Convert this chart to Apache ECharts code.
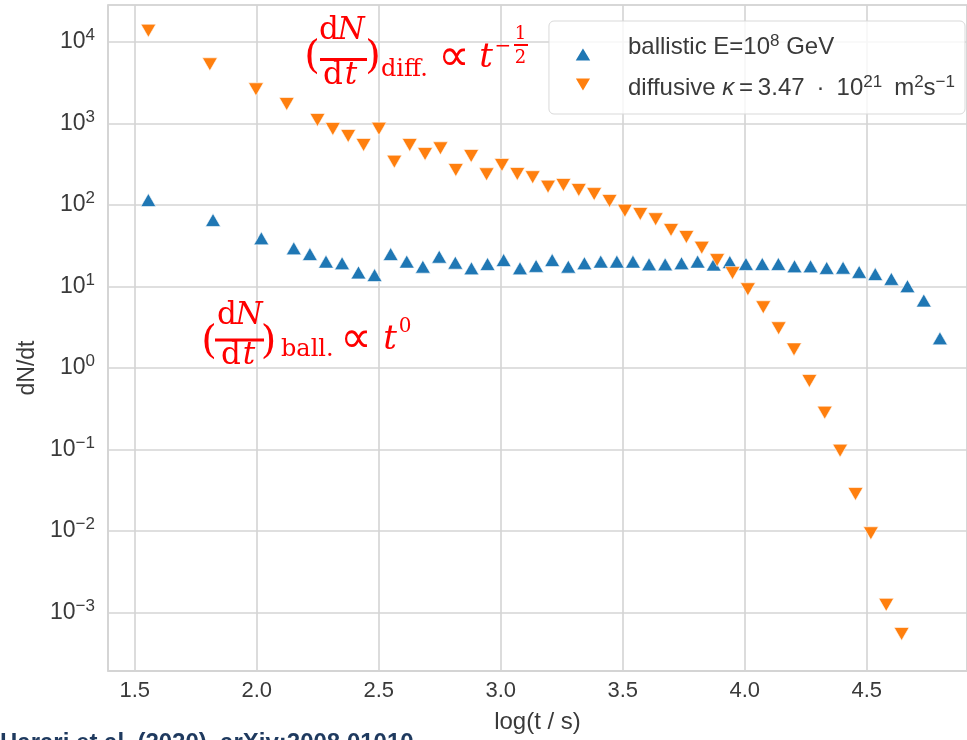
<!DOCTYPE html>
<html>
<head>
<meta charset="utf-8">
<script src="https://cdn.jsdelivr.net/npm/echarts@6/dist/echarts.min.js"></script>
<style>
html,body{margin:0;padding:0;background:#fff;}
#chart{width:967px;height:740px;}
</style>
</head>
<body>
<div id="chart"></div>
<script>
// ---- data ----
const ballisticName = 'ballistic';
const diffusiveName = 'diffusive';
const xBall = [1.556, 1.821, 2.019, 2.152, 2.218, 2.284, 2.350, 2.417, 2.483, 2.549, 2.615, 2.681, 2.748, 2.814, 2.880, 2.946, 3.012, 3.079, 3.145, 3.211, 3.277, 3.343, 3.410, 3.476, 3.542, 3.608, 3.674, 3.741, 3.807, 3.873, 3.939, 4.005, 4.072, 4.138, 4.204, 4.270, 4.336, 4.403, 4.469, 4.535, 4.601, 4.667, 4.734, 4.800];
const yBall = [115, 65.5, 39.0, 29.4, 25.0, 20.2, 19.3, 14.9, 13.8, 25.0, 20.2, 17.5, 23.2, 19.6, 16.7, 18.9, 21.1, 16.7, 17.9, 21.1, 17.5, 19.3, 20.2, 20.2, 20.2, 18.7, 18.7, 19.3, 20.2, 18.6, 20.0, 18.9, 18.9, 18.9, 17.7, 17.7, 16.9, 17.0, 15.1, 14.2, 12.4, 10.1, 6.74, 2.31];
const xDiff = [1.556, 1.808, 1.997, 2.123, 2.249, 2.312, 2.375, 2.438, 2.501, 2.564, 2.627, 2.690, 2.753, 2.816, 2.879, 2.942, 3.005, 3.068, 3.131, 3.194, 3.257, 3.320, 3.383, 3.446, 3.509, 3.572, 3.635, 3.698, 3.761, 3.824, 3.887, 3.950, 4.013, 4.076, 4.139, 4.202, 4.265, 4.328, 4.391, 4.454, 4.517, 4.580, 4.643];
const yDiff = [13760, 5325, 2627, 1735, 1104, 857, 703, 545, 863, 340, 545, 422, 496, 269, 399, 238, 310, 240, 219, 168, 176, 153, 136, 112, 85.1, 77.6, 66.8, 49.4, 40.5, 29.9, 21.1, 14.6, 9.24, 5.56, 3.07, 1.69, 0.692, 0.283, 0.0967, 0.0284, 0.00937, 0.00124, 0.000545];
const xRange = [1.3906, 4.911];
const yRange = [1.914e-4, 28445];
const xTitle = 'log(t / s)';
const yTitle = 'dN/dt';
const sourceNote = 'Harari et al. (2020), arXiv:2008.01010';

// ---- styles ----
const BLUE = '#1f77b4', ORANGE = '#ff7f0e', RED = '#ff0000';
const GRID = '#d4d4d4', TXT = '#3a3a3a';
const SANS = '"Liberation Sans", Arial, sans-serif';
const SERIF = '"DejaVu Serif", serif';

function supLabel(v) {
  const e = Math.round(Math.log10(v));
  return '10{s|' + (e < 0 ? '\u2212' + (-e) : e) + '}';
}

function tx(text, x, y, size, opts) {
  opts = opts || {};
  return {
    type: 'text', silent: true, z: 100,
    style: {
      text: text, x: x, y: y,
      fill: RED,
      font: (opts.italic ? 'italic ' : '') + size + 'px ' + (opts.family || SERIF),
      textAlign: opts.align || 'center',
      textVerticalAlign: 'middle', verticalAlign: 'middle'
    }
  };
}
function bar(x1, x2, y, w) {
  return { type: 'line', silent: true, z: 100,
    shape: {x1: x1, y1: y, x2: x2, y2: y},
    style: {stroke: RED, lineWidth: w} };
}

const graphics = [
  // (dN/dt)_diff. ∝ t^{-1/2}
  tx('(', 312, 58, 40),
  tx('d', 329, 31, 31), tx('N', 351, 31, 31, {italic: true}),
  bar(320, 367, 59.5, 2.8),
  tx('d', 333, 76, 31), tx('t', 351, 76, 31, {italic: true}),
  tx(')', 373, 58, 40),
  tx('diff.', 381, 70, 24, {align: 'left'}),
  tx('\u221D', 454, 59, 44, {family: '"DejaVu Sans", sans-serif'}),
  tx('t', 486, 58, 34, {italic: true}),
  tx('\u2212', 503, 47, 20),
  tx('1', 520.5, 34.5, 18),
  bar(514, 528, 45, 2),
  tx('2', 520.5, 58, 18),
  // (dN/dt)_ball. ∝ t^0
  tx('(', 209, 343, 40),
  tx('d', 227, 316, 31), tx('N', 249, 316, 31, {italic: true}),
  bar(215, 264, 340, 2.8),
  tx('d', 231, 356, 31), tx('t', 249, 356, 31, {italic: true}),
  tx(')', 268.5, 343, 40),
  tx('ball.', 281, 350, 24, {align: 'left'}),
  tx('\u221D', 356, 341, 44, {family: '"DejaVu Sans", sans-serif'}),
  tx('t', 390, 340, 34, {italic: true}),
  tx('0', 405, 327, 20),
  // y-axis title
  { type: 'text', silent: true, x: 28, y: 368, rotation: Math.PI / 2,
    style: { text: yTitle, fill: TXT, font: '23px ' + SANS,
      textAlign: 'center', textVerticalAlign: 'middle', verticalAlign: 'middle' } },
  // source note (cut at bottom edge)
  { type: 'text', silent: true, left: 0, top: 731,
    style: { text: sourceNote, fill: '#1f3a5f', font: 'bold 24px ' + SANS } }
];

const chart = echarts.init(document.getElementById('chart'), null, {renderer: 'canvas'});
chart.setOption({
  animation: false,
  backgroundColor: '#ffffff',
  grid: { left: 108, right: 0, top: 5, bottom: 69, show: true, borderColor: GRID, borderWidth: 1.5 },
  xAxis: {
    type: 'value', min: xRange[0], max: xRange[1], splitNumber: 7,
    name: xTitle, nameLocation: 'middle', nameGap: 39,
    nameTextStyle: { fontSize: 24, color: TXT, fontFamily: SANS },
    axisLine: { show: true, lineStyle: { color: GRID, width: 1.5 } },
    axisTick: { show: false },
    axisLabel: { showMinLabel: false, showMaxLabel: false, fontSize: 22, color: TXT, fontFamily: SANS, margin: 9,
      formatter: v => v.toFixed(1) },
    splitLine: { show: true, lineStyle: { color: GRID, width: 1.6 } }
  },
  yAxis: {
    type: 'log', logBase: 10, min: yRange[0], max: yRange[1],
    axisLine: { show: true, lineStyle: { color: GRID, width: 1.5 } },
    axisTick: { show: false },
    axisLabel: { showMinLabel: false, showMaxLabel: false, fontSize: 23, lineHeight: 30, color: TXT, fontFamily: SANS, margin: 13,
      formatter: supLabel,
      rich: { s: { fontSize: 17, lineHeight: 17, verticalAlign: 'top', color: TXT, fontFamily: SANS } } },
    splitLine: { show: true, lineStyle: { color: GRID, width: 1.6 } }
  },
  legend: {
    orient: 'vertical', right: 2, top: 21,
    backgroundColor: 'rgba(255,255,255,0.8)', borderColor: '#d9d9d9', borderWidth: 1, borderRadius: 5,
    padding: [12, 10, 12, 24], itemGap: -7, itemWidth: 18, itemHeight: 15,
    textStyle: { fontSize: 24, lineHeight: 28, color: TXT, fontFamily: SANS,
      rich: {
        s: { fontSize: 17, lineHeight: 17, verticalAlign: 'top', color: TXT, fontFamily: SANS },
        i: { fontSize: 24, lineHeight: 28, fontStyle: 'italic', color: TXT, fontFamily: SANS }
      } },
    formatter: function (name) {
      if (name === ballisticName) return 'ballistic E=10{s|8} GeV';
      return 'diffusive {i|\u03BA}\u2009=\u20093.47\u2002\u00B7\u200210{s|21}\u2002m{s|2}s{s|\u22121}';
    },
    data: [
      { name: ballisticName, icon: 'triangle', textStyle: { padding: [0, 0, 14, 31] } },
      { name: diffusiveName, icon: 'path://M0,0L20,0L10,17Z', textStyle: { padding: [6, 0, 0, 31] } }
    ]
  },
  series: [
    { name: ballisticName, type: 'scatter', symbol: 'triangle', symbolSize: [15, 13],
      itemStyle: { color: BLUE, borderColor: '#fff', borderWidth: 0.6, opacity: 1 },
      data: xBall.map((x, i) => [x, yBall[i]]), z: 2 },
    { name: diffusiveName, type: 'scatter', symbol: 'triangle', symbolRotate: 180, symbolSize: [15, 13],
      itemStyle: { color: ORANGE, borderColor: '#fff', borderWidth: 0.6, opacity: 1 },
      data: xDiff.map((x, i) => [x, yDiff[i]]), z: 3 }
  ],
  graphic: graphics
});
</script>
</body>
</html>
